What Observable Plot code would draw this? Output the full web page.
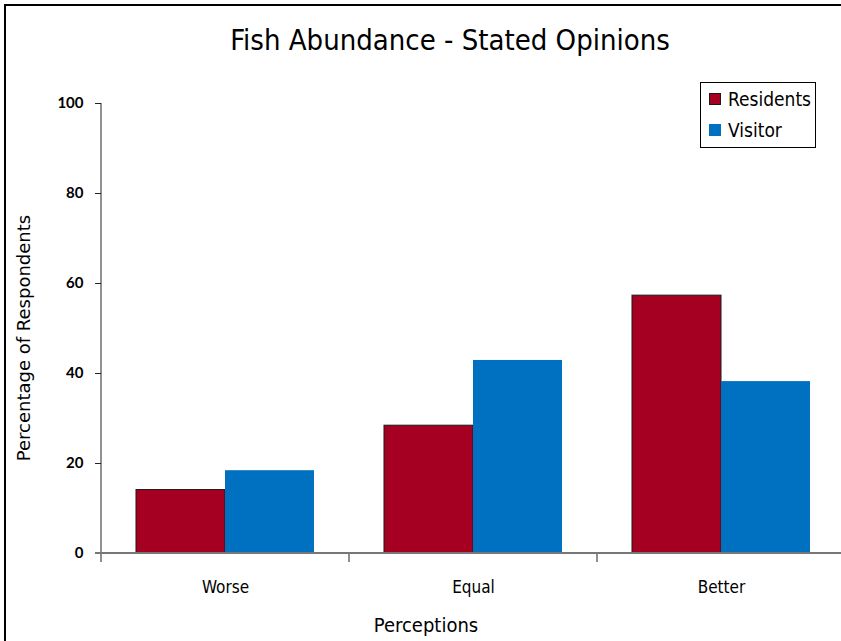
<!DOCTYPE html>
<html>
<head>
<meta charset="utf-8">
<script src="https://cdn.jsdelivr.net/npm/d3@7"></script>
<script src="https://cdn.jsdelivr.net/npm/@observablehq/plot@0.6"></script>
<style>
  html, body { margin: 0; padding: 0; background: #fff; overflow: hidden; width: 841px; height: 641px; }
  #wrap { position: relative; width: 841px; height: 641px; overflow: hidden; background: #fff; }
  #ftop { position: absolute; left: 4px; top: 4px; width: 837px; height: 1.5px; background: #000; }
  #fleft { position: absolute; left: 4px; top: 4px; width: 1.5px; height: 637px; background: #000; }
  #title { position: absolute; left: 0; width: 841px; padding-left: 59px; box-sizing: border-box; top: 23px; text-align: center;
           font-family: "DejaVu Sans Condensed", "DejaVu Sans", sans-serif; font-stretch: condensed;
           font-size: 29px; color: #000; white-space: nowrap; }
  #ylab { position: absolute; left: 23px; top: 338px; transform: translate(-50%, -50%) rotate(-90deg);
          white-space: nowrap; font-family: "DejaVu Sans", sans-serif; font-size: 18px; color: #000; }
  #xlab { position: absolute; left: 0; width: 841px; padding-left: 11px; box-sizing: border-box; top: 613px; text-align: center;
          font-family: "DejaVu Sans Condensed", "DejaVu Sans", sans-serif; font-stretch: condensed;
          font-size: 20px; color: #000; }
  #legend { position: absolute; left: 700px; top: 82px; width: 114px; height: 64px;
            border: 1px solid #000; background: #fff;
            font-family: "DejaVu Sans Condensed", "DejaVu Sans", sans-serif; font-stretch: condensed;
            font-size: 19px; color: #000; }
  .item { position: absolute; left: 8px; display: flex; align-items: center; }
  .sw { width: 12px; height: 12px; margin-right: 7px; box-sizing: border-box; }
  #wrap svg { position: absolute; left: 0; top: 0; max-width: none !important; }
</style>
</head>
<body>
<div id="wrap">
  <div id="ftop"></div>
  <div id="fleft"></div>
  <div id="title">Fish Abundance - Stated Opinions</div>
  <div id="ylab">Percentage of Respondents</div>
  <div id="xlab">Perceptions</div>
</div>
<script>
const categories = ["Worse", "Equal", "Better"];
const seriesNames = ["Residents", "Visitor"];
const residents = [14.1, 28.4, 57.3];
const visitors = [18.4, 42.9, 38.2];
const yTicks = [0, 20, 40, 60, 80, 100];
const colors = ["#A50021", "#0070C0"];

const data = [];
categories.forEach((c, i) => {
  data.push({category: c, series: seriesNames[0], value: residents[i]});
  data.push({category: c, series: seriesNames[1], value: visitors[i]});
});

const plot = Plot.plot({
  width: 841,
  height: 641,
  marginLeft: 100,
  marginRight: -5,
  marginTop: 103,
  marginBottom: 88,
  style: {background: "transparent", overflow: "hidden", maxWidth: "none"},
  fx: {domain: categories, padding: 0, label: null},
  x: {domain: seriesNames, paddingInner: 0, paddingOuter: 0.393, axis: null},
  y: {domain: [0, 100], label: null},
  color: {domain: seriesNames, range: colors},
  marks: [
    Plot.barY(data.filter(d => d.series === seriesNames[0]),
      {fx: "category", x: "series", y: "value", fill: "series", stroke: "#1a1a1a", strokeWidth: 1}),
    Plot.barY(data.filter(d => d.series === seriesNames[1]),
      {fx: "category", x: "series", y: "value", fill: "series"}),
    Plot.axisY({ticks: yTicks, tickSize: 6, tickPadding: 12, stroke: "#222",
      fontSize: 15, fontFamily: "Lato, sans-serif", fontWeight: "bold", fill: "#000", label: null}),
    Plot.axisFx({anchor: "bottom", tickSize: 0, tickPadding: 27, fontSize: 17,
      fontFamily: "'DejaVu Sans Condensed', 'DejaVu Sans', sans-serif", fill: "#000", label: null})
  ]
});
plot.style.maxWidth = "none";

// axis lines and category boundary ticks from the library's scales
const fx = plot.scale("fx");
const ys = plot.scale("y");
const svg = d3.select(plot);
const y0 = ys.apply(0), y100 = ys.apply(100);
const left = fx.apply(categories[0]);
const right = fx.apply(categories[categories.length - 1]) + fx.bandwidth;
const g = svg.append("g");
g.append("line").attr("x1", left).attr("x2", left).attr("y1", y100).attr("y2", y0)
  .attr("stroke", "#222").attr("stroke-width", 1);
const bounds = categories.map(c => fx.apply(c));
bounds.forEach(b => {
  g.append("line").attr("x1", b).attr("x2", b).attr("y1", y0).attr("y2", y0 + 9)
    .attr("stroke", "#222").attr("stroke-width", 1);
});
g.append("line").attr("x1", left - 6).attr("x2", right).attr("y1", y0).attr("y2", y0)
  .attr("stroke", "#777").attr("stroke-width", 2);

const wrap = document.getElementById("wrap");
wrap.insertBefore(plot, document.getElementById("title"));

// legend
const legend = document.createElement("div");
legend.id = "legend";
seriesNames.forEach((s, i) => {
  const it = document.createElement("div");
  it.className = "item";
  it.style.top = (i === 0 ? 5 : 36) + "px";
  const sw = document.createElement("div");
  sw.className = "sw";
  sw.style.background = colors[i];
  if (i === 0) sw.style.border = "1px solid #1a1a1a";
  const tx = document.createElement("span");
  tx.textContent = s;
  it.appendChild(sw); it.appendChild(tx);
  legend.appendChild(it);
});
wrap.appendChild(legend);
</script>
</body>
</html>
